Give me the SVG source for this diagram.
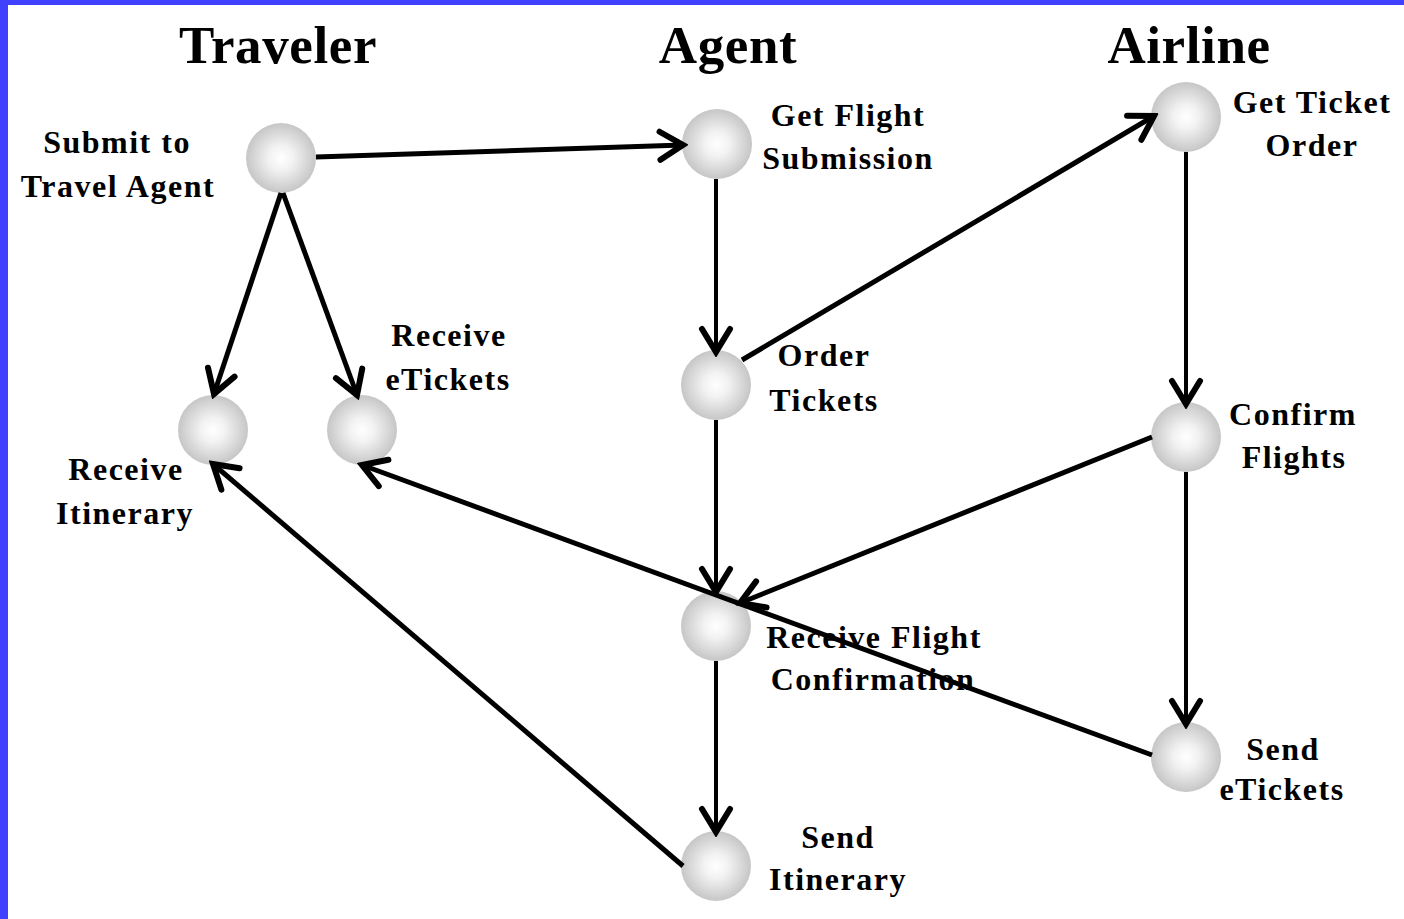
<svg xmlns="http://www.w3.org/2000/svg" width="1404" height="919" viewBox="0 0 1404 919">
<style>
.h{font-family:"Liberation Serif","Times New Roman",serif;font-weight:bold;font-size:53px;letter-spacing:0.6px;text-anchor:middle;fill:#000}
.t{font-family:"Liberation Serif","Times New Roman",serif;font-weight:bold;font-size:32px;letter-spacing:1.5px;text-anchor:middle;fill:#000}
.n{fill:url(#g)}
.c line{stroke:#000;stroke-width:5;marker-end:url(#a)}
.c line.v{stroke-width:4}
</style>
<defs>
<radialGradient id="g" cx="0.5" cy="0.5" r="0.5">
<stop offset="0" stop-color="#ffffff"/>
<stop offset="0.35" stop-color="#f2f2f2"/>
<stop offset="1" stop-color="#c6c6c6"/>
</radialGradient>
<marker id="a" markerUnits="userSpaceOnUse" markerWidth="36" markerHeight="36" viewBox="0 0 36 36" refX="31" refY="18" orient="auto">
<path d="M8,4 L31,18 L8,32" fill="none" stroke="#000" stroke-width="6" stroke-linecap="round" stroke-linejoin="miter"/>
</marker>
</defs>
<rect x="0" y="0" width="1404" height="919" fill="#ffffff"/>
<rect x="0" y="0" width="1404" height="5" fill="#4040ff"/>
<rect x="0" y="0" width="8" height="919" fill="#4040ff"/>
<g id="headers">
<text class="h" x="278" y="63">Traveler</text>
<text class="h" x="728" y="63">Agent</text>
<text class="h" x="1189" y="63">Airline</text>
</g>
<g id="submit"><circle class="n" cx="281" cy="158" r="35"/><text class="t" x="117" y="153">Submit to</text><text class="t" x="118" y="197">Travel Agent</text></g>
<g id="getflight"><circle class="n" cx="717" cy="144" r="35"/><text class="t" x="848" y="126">Get Flight</text><text class="t" x="848" y="169">Submission</text></g>
<g id="getticket"><circle class="n" cx="1186" cy="117" r="35"/><text class="t" x="1312" y="113">Get Ticket</text><text class="t" x="1312" y="156">Order</text></g>
<g id="receiveetickets"><circle class="n" cx="362" cy="430" r="35"/><text class="t" x="449" y="346">Receive</text><text class="t" x="448" y="390">eTickets</text></g>
<g id="receiveitinerary"><circle class="n" cx="213" cy="430" r="35"/><text class="t" x="126" y="480">Receive</text><text class="t" x="125" y="524">Itinerary</text></g>
<g id="ordertickets"><circle class="n" cx="716" cy="385" r="35"/><text class="t" x="824" y="366">Order</text><text class="t" x="824" y="411">Tickets</text></g>
<g id="confirmflights"><circle class="n" cx="1186" cy="437" r="35"/><text class="t" x="1293" y="425">Confirm</text><text class="t" x="1294" y="468">Flights</text></g>
<g id="receiveflightconfirmation"><circle class="n" cx="716" cy="626" r="35"/><text class="t" x="874" y="648">Receive Flight</text><text class="t" x="873" y="690">Confirmation</text></g>
<g id="senditinerary"><circle class="n" cx="716" cy="866" r="35"/><text class="t" x="838" y="848">Send</text><text class="t" x="838" y="890">Itinerary</text></g>
<g id="sendetickets"><circle class="n" cx="1186" cy="757" r="35"/><text class="t" x="1283" y="760">Send</text><text class="t" x="1282" y="800">eTickets</text></g>
<g id="connectors" class="c">
<line x1="316" y1="157" x2="683" y2="145"/>
<line x1="281" y1="193" x2="214" y2="394"/>
<line x1="283" y1="193" x2="357" y2="395"/>
<line class="v" x1="716" y1="179" x2="716" y2="352"/>
<line x1="742" y1="360" x2="1154" y2="116"/>
<line class="v" x1="716" y1="420" x2="716" y2="592"/>
<line class="v" x1="1186" y1="152" x2="1186" y2="404"/>
<line x1="1152" y1="437" x2="740" y2="603"/>
<line class="v" x1="1186" y1="472" x2="1186" y2="724"/>
<line class="v" x1="716" y1="661" x2="716" y2="832"/>
<line x1="683" y1="866" x2="213" y2="464"/>
<line x1="1152" y1="755" x2="362" y2="465"/>
</g>
</svg>
